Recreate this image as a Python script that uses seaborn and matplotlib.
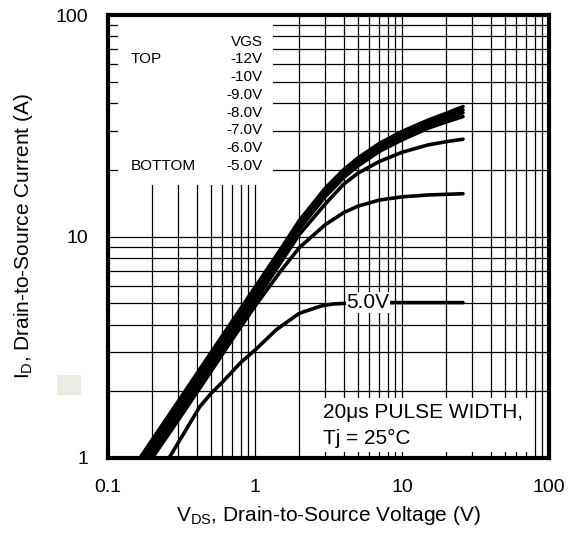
import matplotlib
matplotlib.use("Agg")
import matplotlib.pyplot as plt
import matplotlib.ticker as mticker
from matplotlib.patches import Rectangle
import numpy as np
import pandas as pd
import seaborn as sns

# ---- data ----
v_grid = [0.15, 0.2, 0.3, 0.5, 0.7, 1, 1.5, 2, 3, 4, 5, 7, 10, 15, 20, 26]
i_12v = [0.91, 1.21, 1.8, 2.98, 4.15, 5.9, 8.8, 11.8, 16.5, 20.0, 22.6, 26.3, 29.8, 33.5, 36.0, 38.6]
i_10v = [0.88, 1.17, 1.75, 2.9, 4.02, 5.7, 8.5, 11.4, 16.0, 19.5, 22.1, 25.7, 29.0, 32.6, 35.0, 37.3]
i_9v = [0.85, 1.13, 1.69, 2.8, 3.9, 5.5, 8.25, 11.1, 15.6, 19.0, 21.5, 25.0, 28.2, 31.8, 34.0, 36.2]
i_8v = [0.82, 1.09, 1.63, 2.7, 3.77, 5.3, 8.0, 10.8, 15.1, 18.4, 20.8, 24.2, 27.3, 30.8, 32.9, 34.8]
i_7v = [0.79, 1.05, 1.57, 2.6, 3.63, 5.1, 7.65, 10.2, 14.0, 17.2, 19.3, 21.8, 24.0, 25.9, 26.8, 27.5]
i_6v = [0.75, 1.0, 1.48, 2.45, 3.43, 4.85, 7.0, 8.9, 11.3, 12.8, 13.7, 14.6, 15.1, 15.4, 15.5, 15.6]
v_5v = [0.2, 0.26, 0.33, 0.42, 0.5, 0.6, 0.8, 1.0, 1.4, 2.0, 2.8, 3.4, 5, 10, 26]
i_5v = [0.8, 1.0, 1.3, 1.7, 1.95, 2.2, 2.7, 3.07, 3.8, 4.5, 4.85, 4.96, 5.02, 5.03, 5.03]

vgs_names = ["-12V", "-10V", "-9.0V", "-8.0V", "-7.0V", "-6.0V", "-5.0V"]
legend_labels = ["-12V", "-10V", "-9.0V", "-8.0V", "-7.0V", "-6.0V", "-5.0V"]
x_ticks = [0.1, 1, 10, 100]
x_ticklabels = ["0.1", "1", "10", "100"]
y_ticks = [1, 10, 100]
y_ticklabels = ["1", "10", "100"]

rows = []
for name, ivals in zip(vgs_names[:-1], [i_12v, i_10v, i_9v, i_8v, i_7v, i_6v]):
    for v, i in zip(v_grid, ivals):
        rows.append((name, v, i))
for v, i in zip(v_5v, i_5v):
    rows.append(("-5.0V", v, i))
df = pd.DataFrame(rows, columns=["vgs", "vds", "id"])

# ---- figure ----
sns.set_style("white")
plt.rcParams["font.family"] = ["Liberation Sans", "DejaVu Sans"]
plt.rcParams["mathtext.fontset"] = "custom"
plt.rcParams["mathtext.rm"] = "Liberation Sans"
plt.rcParams["mathtext.it"] = "Liberation Sans"
plt.rcParams["text.color"] = "black"
plt.rcParams["axes.labelcolor"] = "black"
plt.rcParams["xtick.color"] = "black"
plt.rcParams["ytick.color"] = "black"

fig = plt.figure(figsize=(5.69, 5.43), dpi=100)
ax = fig.add_axes([108 / 569, 1 - 458 / 543, 441 / 569, 443 / 543])
ax.set_xscale("log")
ax.set_yscale("log")

sns.lineplot(data=df, x="vds", y="id", hue="vgs", hue_order=vgs_names,
             palette=["black"] * len(vgs_names), estimator=None, sort=False,
             legend=False, linewidth=2.6, ax=ax, zorder=3,
             solid_capstyle="round")

ax.set_xlim(0.1, 100)
ax.set_ylim(1, 100)
ax.set_axisbelow(True)
ax.xaxis.set_major_locator(mticker.FixedLocator(x_ticks))
ax.yaxis.set_major_locator(mticker.FixedLocator(y_ticks))
ax.xaxis.set_minor_locator(mticker.LogLocator(base=10, subs=np.arange(2, 10)))
ax.yaxis.set_minor_locator(mticker.LogLocator(base=10, subs=np.arange(2, 10)))
ax.xaxis.set_minor_formatter(mticker.NullFormatter())
ax.yaxis.set_minor_formatter(mticker.NullFormatter())
ax.set_xticklabels(x_ticklabels)
ax.set_yticklabels(y_ticklabels)
ax.grid(which="both", color="black", linewidth=0.9)
ax.tick_params(which="both", length=0, labelsize=14, colors="black",
               labelcolor="black")
ax.tick_params(axis="x", pad=15)
ax.tick_params(axis="y", pad=14)
for sp in ax.spines.values():
    sp.set_visible(True)
    sp.set_color("black")
    sp.set_linewidth(3)
    sp.set_zorder(5)

ax.set_xlabel(r"$\mathrm{V_{DS}}$, Drain-to-Source Voltage (V)", fontsize=15, color="black")
ax.set_ylabel(r"$\mathrm{I_{D}}$, Drain-to-Source Current (A)", fontsize=15, color="black")
ax.xaxis.set_label_coords(0.5, -0.104)
ax.yaxis.set_label_coords(-0.166, 0.5)

# legend box
ax.add_patch(Rectangle((0.023, 0.616), 0.351, 0.379, transform=ax.transAxes,
                       facecolor="white", edgecolor="none", zorder=1.5))
ax.text(0.351, 0.939, "VGS", transform=ax.transAxes, ha="right", va="center",
        fontsize=11, color="black")
ax.text(0.052, 0.901, "TOP", transform=ax.transAxes, ha="left", va="center",
        fontsize=11, color="black")
ax.text(0.052, 0.659, "BOTTOM", transform=ax.transAxes, ha="left", va="center",
        fontsize=11, color="black")
for lab, yy in zip(legend_labels, [0.901, 0.860, 0.819, 0.779, 0.740, 0.700, 0.659]):
    ax.text(0.351, yy, lab, transform=ax.transAxes, ha="right", va="center",
            fontsize=11, color="black")

# note box
ax.add_patch(Rectangle((0.476, 0.0135), 0.48, 0.122, transform=ax.transAxes,
                       facecolor="white", edgecolor="none", zorder=1.5))
ax.text(0.4875, 0.1016, "20\u03bcs PULSE WIDTH,", transform=ax.transAxes,
        ha="left", va="center", fontsize=15, zorder=4, color="black")
ax.text(0.4875, 0.045, "Tj = 25\u00b0C", transform=ax.transAxes,
        ha="left", va="center", fontsize=15, zorder=4, color="black")

# curve label
ax.text(5.87, 5.03, "5.0V", ha="center", va="center", fontsize=15, zorder=4,
        color="black", bbox=dict(facecolor="white", edgecolor="none", pad=0.5))

# small beige mark at left
fig.patches.append(Rectangle((57 / 569, (543 - 395) / 543), 24 / 569, 20 / 543,
                             transform=fig.transFigure, facecolor="#ECEBE3",
                             edgecolor="none"))

fig.savefig("out.png", dpi=100)
